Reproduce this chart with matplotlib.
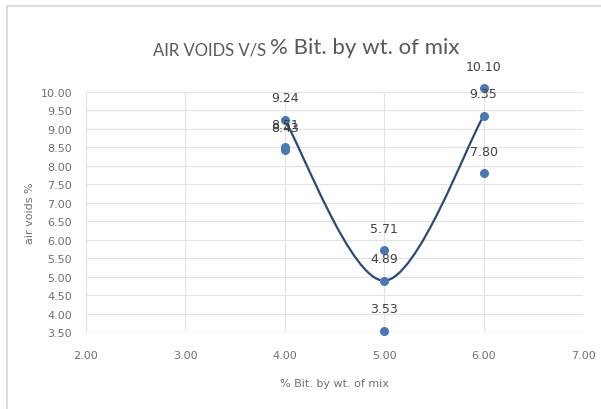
import numpy as np
import matplotlib
matplotlib.use("Agg")
import matplotlib.pyplot as plt
from matplotlib.path import Path
from matplotlib.patches import PathPatch
from matplotlib.lines import Line2D

# % bitumen by weight of mix and measured air voids (three samples each)
bitumen = [4.00, 4.00, 4.00, 5.00, 5.00, 5.00, 6.00, 6.00, 6.00]
air_voids = [9.24, 8.51, 8.43, 5.71, 4.89, 3.53, 10.10, 9.35, 7.80]

# series drawn with the smoothed line
line_x = [4.00, 5.00, 6.00]
line_y = [9.24, 4.89, 9.35]

x_ticks = [2.0, 3.0, 4.0, 5.0, 6.0, 7.0]
y_ticks = [3.5, 4.0, 4.5, 5.0, 5.5, 6.0, 6.5, 7.0, 7.5, 8.0, 8.5, 9.0, 9.5, 10.0]

MARKER = "#4a78b0"
LINE = "#2c4a78"
TEXT = "#6f6f6f"
GRID = "#e3e3e3"
TICKFONT = ["Liberation Sans Narrow", "DejaVu Sans"]

fig = plt.figure(figsize=(6.01, 4.10), dpi=100)
ax = fig.add_axes([86 / 601, 1 - 333 / 410, (583 - 86) / 601, (333 - 93) / 410])

ax.set_xlim(2.0, 7.0)
ax.set_ylim(3.5, 10.0)
ax.set_xticks(x_ticks)
ax.set_yticks(y_ticks)
ax.set_xticklabels([f"{v:.2f}" for v in x_ticks], fontsize=8, color=TEXT, family=TICKFONT)
ax.set_yticklabels([f"{v:.2f}" for v in y_ticks], fontsize=8, color=TEXT, family=TICKFONT)
ax.tick_params(length=0, pad=10)
ax.tick_params(axis="x", pad=13)
ax.grid(True, color=GRID, linewidth=0.8)
for s in ax.spines.values():
    s.set_visible(False)
ax.axhline(3.5, color="#d0d0d0", linewidth=0.9)

# smoothed line (bezier through the line series points)
pts = np.column_stack([line_x, line_y])
verts = [tuple(pts[0])]
codes = [Path.MOVETO]
for i in range(len(pts) - 1):
    p0 = pts[i - 1] if i > 0 else pts[i]
    p1, p2 = pts[i], pts[i + 1]
    p3 = pts[i + 2] if i + 2 < len(pts) else pts[i + 1]
    c1 = p1 + (p2 - p0) / 6
    c2 = p2 - (p3 - p1) / 6
    verts += [tuple(c1), tuple(c2), tuple(p2)]
    codes += [Path.CURVE4] * 3
ax.add_patch(PathPatch(Path(verts, codes), facecolor="none", edgecolor=LINE,
                       linewidth=1.6, zorder=3))

ax.scatter(bitumen, air_voids, s=30, color=MARKER, zorder=4, clip_on=False)
for x, y in zip(bitumen, air_voids):
    ax.annotate(f"{y:.2f}", (x, y), textcoords="offset points", xytext=(0, 16),
                ha="center", va="center", fontsize=9, color="#404040",
                family=TICKFONT, zorder=5, annotation_clip=False)

ax.set_xlabel("% Bit. by wt. of mix", fontsize=8, color=TEXT, labelpad=13)
ax.set_ylabel("air voids %", fontsize=8, color=TEXT, labelpad=4)

# two-size title
t1 = fig.text(153 / 601, 1 - 55 / 410, "AIR VOIDS V/S ", fontsize=12, color="#595959",
              family=["Lato", "DejaVu Sans"], va="baseline")
ax.annotate("% Bit. by wt. of mix", xy=(1, 0), xycoords=t1, va="bottom",
            fontsize=16, color="#595959", family=["Lato", "DejaVu Sans"])

# chart border
fig.add_artist(Line2D([7 / 601, 1], [1 - 7 / 410, 1 - 7 / 410], color="#d9d9d9", linewidth=1.2))
fig.add_artist(Line2D([7 / 601, 7 / 601], [0, 1 - 7 / 410], color="#d9d9d9", linewidth=1.2))

fig.savefig("out.png", dpi=100)
